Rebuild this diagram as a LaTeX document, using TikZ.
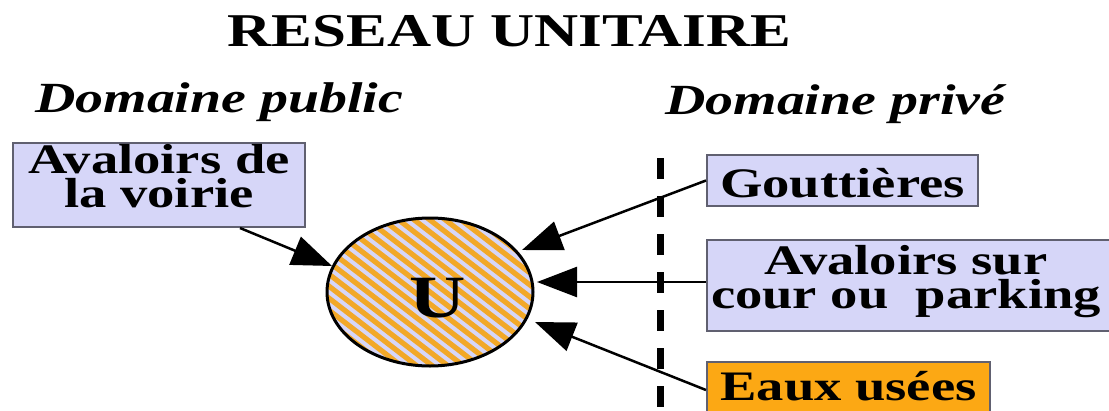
\documentclass[tikz,border=0pt]{standalone}
\usepackage{fontspec}
\setmainfont{Liberation Serif}[FakeStretch=1.3]
\usetikzlibrary{arrows.meta,shapes.geometric}
\definecolor{lav}{RGB}{214,214,248}
\definecolor{boxorange}{RGB}{252,168,20}
\definecolor{stripe}{RGB}{242,168,40}
\definecolor{boxline}{RGB}{96,96,112}
\begin{document}
\begin{tikzpicture}[x=1pt,y=-1pt,
  boxstyle/.style={draw=boxline, line width=2pt, inner sep=0pt, align=center,
    font=\fontsize{42}{34}\selectfont\bfseries},
  headstyle/.style={inner sep=0pt, anchor=base west, font=\fontsize{43}{43}\selectfont\bfseries\itshape},
  arr/.style={line width=2.5pt, -{Triangle[length=40pt,width=30pt]}},
  sepline/.style={line width=7pt, dash pattern=on 21pt off 17pt}
]
\useasboundingbox (0,0) rectangle (1109,410);
\clip (0,0) rectangle (1109,410);
\fill[white] (0,0) rectangle (1109,410);

% headings
\node[inner sep=0pt, anchor=base, font=\fontsize{47}{47}\selectfont\bfseries] (title) at (509.5,46) {RESEAU UNITAIRE};
\node[headstyle] (pub) at (35,112) {Domaine public};
\node[headstyle] (priv) at (665,114) {Domaine privé};

% boundary line
\coordinate (dtop) at (660,158);
\coordinate (dbot) at (660,420);
\draw[sepline] (dtop) -- (dbot);

% collector
\node[ellipse, draw=black, line width=3pt, fill=lav, minimum width=206pt, minimum height=148pt,
  inner sep=0pt, text height=50pt, text depth=0pt, font=\fontsize{60}{60}\selectfont\bfseries,
  path picture={
    \foreach \c in {-168,-156,...,168}{
      \draw[stripe, line width=5.2pt]
        ([shift={(-120,{\c-92.4})}]path picture bounding box.center) --
        ([shift={(120,{\c+92.4})}]path picture bounding box.center);
    }
  }] (U) at (430,292) {\hspace*{16pt}U};

% boxes
\node[boxstyle, fill=lav, minimum width=292pt, minimum height=84pt, text height=64pt, text depth=20pt]
  (avvoir) at (159,185) {Avaloirs de\\la voirie};
\node[boxstyle, fill=lav, minimum width=271pt, minimum height=51pt, text height=42pt, text depth=9pt]
  (goutt) at (842.5,180.5) {Gouttières};
\node[boxstyle, fill=lav, minimum width=418pt, minimum height=91pt, text height=68pt, text depth=23pt]
  (avsur) at (916,285.5) {Avaloirs sur\hspace*{20pt}\\cour ou\ \ parking\hspace*{20pt}};
\node[boxstyle, fill=boxorange, minimum width=283pt, minimum height=63pt, text height=38pt, text depth=25pt]
  (eaux) at (848.5,393.5) {Eaux usées};

% arrow tips
\coordinate (t1) at ([shift={(92,-42)}]U.center);
\coordinate (t2) at ([shift={(107,-7)}]U.center);
\coordinate (t3) at ([shift={(105,30)}]U.center);
\coordinate (t4) at ([shift={(-98,-26)}]U.center);
\coordinate (s4) at ([xshift=81pt]avvoir.south);

\draw[arr] (goutt.west) -- (t1);
\draw[arr] ([yshift=3.5pt]avsur.west) -- ([yshift=3.5pt]avsur.west -| t2);
\draw[arr] ([yshift=3.5pt]eaux.west) -- (t3);
\draw[arr] (s4) -- (t4);
\end{tikzpicture}
\end{document}
